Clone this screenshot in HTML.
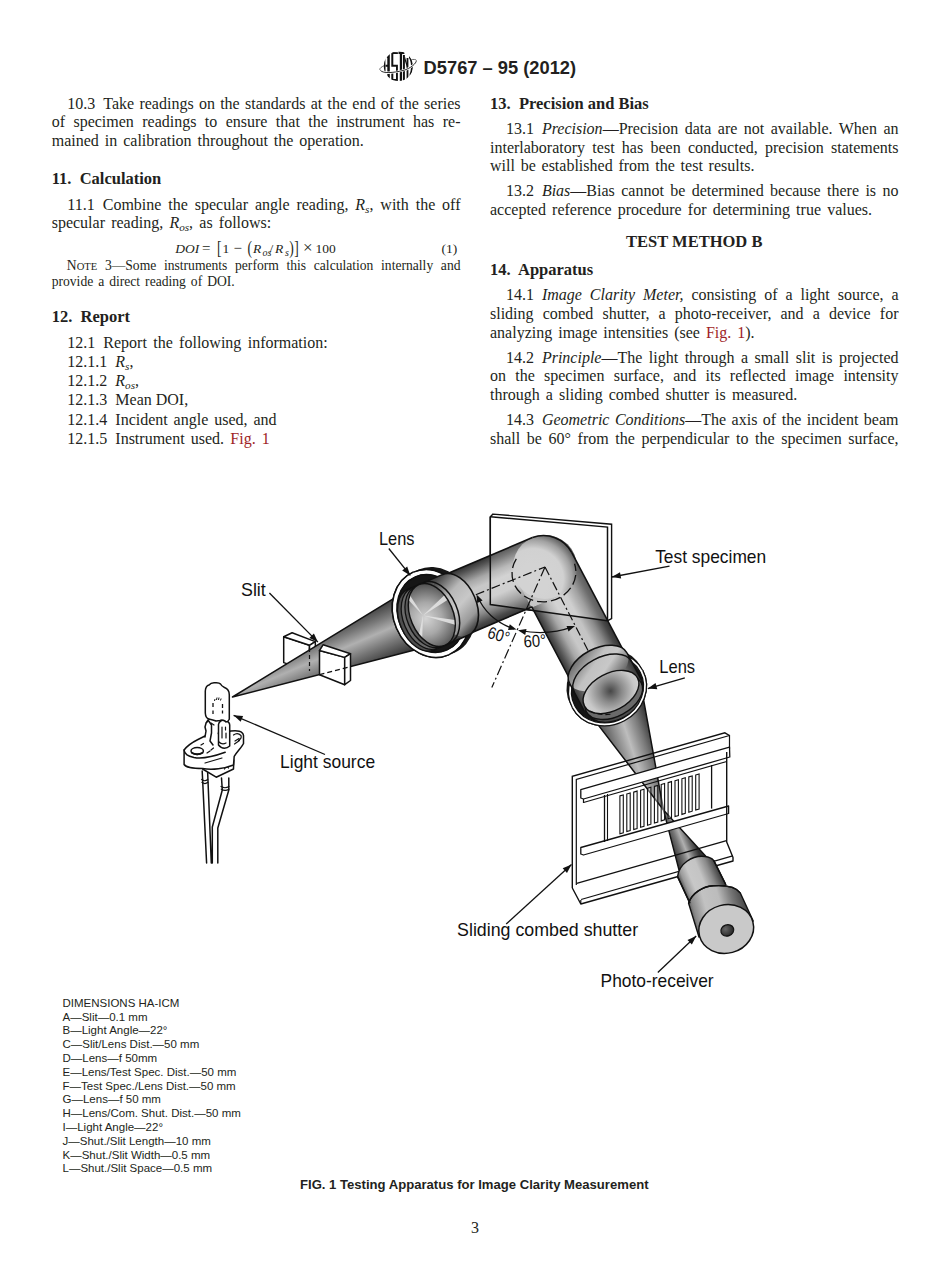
<!DOCTYPE html>
<html><head><meta charset="utf-8"><style>
html,body{margin:0;padding:0;background:#fff;}
body{width:950px;height:1272px;position:relative;overflow:hidden;color:#231f20;}
.l{position:absolute;line-height:20px;height:20px;white-space:nowrap;}
.j{text-align:justify;text-align-last:justify;white-space:normal;}
.s16{font:16px "Liberation Serif",serif;}
.b16{font:bold 16.5px "Liberation Serif",serif;}
.n14{font:13.6px "Liberation Serif",serif;}
.d11{font:11.5px "Liberation Sans",sans-serif;}
.f13{font:bold 13.1px "Liberation Sans",sans-serif;}
.h18{font:bold 18.3px "Liberation Sans",sans-serif;}
sub{font-size:70%;vertical-align:baseline;position:relative;top:0.3em;line-height:0;}
.sc small{font-size:78%;}
.red{color:#a01f27;}
.n{margin-right:8px;}
.eq{position:absolute;font:13.5px "Liberation Serif",serif;white-space:nowrap;}
.eq span{position:absolute;top:0;}
.eq .sb{font-size:10px;top:6.3px;}
.eq .bg{font-size:15px;top:-1.4px;}
.eq .xx{font-size:17px;top:-3px;}
.eq .br{display:inline-block;transform:scaleY(1.32);transform-origin:50% 62%;}
svg{position:absolute;left:0;top:0;}
</style></head><body>
<svg width="950" height="1272" viewBox="0 0 950 1272">
<defs><linearGradient id="gc1" gradientUnits="userSpaceOnUse" x1="388.2" y1="596.4" x2="411.8" y2="651.6"><stop offset="0" stop-color="#2c2c2c"/><stop offset="0.3" stop-color="#777"/><stop offset="0.5" stop-color="#b0b0b0"/><stop offset="0.72" stop-color="#777"/><stop offset="1" stop-color="#333"/></linearGradient><linearGradient id="gt2" gradientUnits="userSpaceOnUse" x1="584.2" y1="706.3" x2="637.8" y2="677.7"><stop offset="0" stop-color="#333"/><stop offset="0.08" stop-color="#555"/><stop offset="0.25" stop-color="#a8a8a8"/><stop offset="0.38" stop-color="#c8c8c8"/><stop offset="0.6" stop-color="#c4c4c4"/><stop offset="0.78" stop-color="#8a8a8a"/><stop offset="0.92" stop-color="#4a4a4a"/><stop offset="1" stop-color="#333"/></linearGradient><linearGradient id="gt1" gradientUnits="userSpaceOnUse" x1="532.4" y1="537.6" x2="557.6" y2="596.4"><stop offset="0" stop-color="#333"/><stop offset="0.08" stop-color="#555"/><stop offset="0.25" stop-color="#a8a8a8"/><stop offset="0.38" stop-color="#c8c8c8"/><stop offset="0.6" stop-color="#c4c4c4"/><stop offset="0.78" stop-color="#8a8a8a"/><stop offset="0.92" stop-color="#4a4a4a"/><stop offset="1" stop-color="#333"/></linearGradient><radialGradient id="gel" gradientUnits="userSpaceOnUse" cx="533.0" cy="579.0" r="49.0" ><stop offset="0" stop-color="#cacaca"/><stop offset="0.62" stop-color="#c6c6c6"/><stop offset="0.8" stop-color="#8a8a8a"/><stop offset="0.93" stop-color="#444"/><stop offset="1" stop-color="#333"/></radialGradient><linearGradient id="gcol" gradientUnits="userSpaceOnUse" x1="442.2" y1="574.6" x2="468.2" y2="635.3"><stop offset="0" stop-color="#3a3a3a"/><stop offset="0.12" stop-color="#6a6a6a"/><stop offset="0.32" stop-color="#b8b8b8"/><stop offset="0.55" stop-color="#c8c8c8"/><stop offset="0.8" stop-color="#9a9a9a"/><stop offset="0.92" stop-color="#555"/><stop offset="1" stop-color="#333"/></linearGradient><radialGradient id="gf1" gradientUnits="userSpaceOnUse" cx="424.8" cy="616.0" r="36.0" ><stop offset="0" stop-color="#d4d4d4"/><stop offset="0.45" stop-color="#a8a8a8"/><stop offset="0.8" stop-color="#6e6e6e"/><stop offset="1" stop-color="#4a4a4a"/></radialGradient><clipPath id="cf1"><ellipse cx="431.8" cy="615.0" rx="20.6" ry="32.3" transform="rotate(-23.2 431.8 615.0)" /></clipPath><linearGradient id="gcol2" gradientUnits="userSpaceOnUse" x1="582.3" y1="707.3" x2="639.7" y2="676.7"><stop offset="0" stop-color="#3a3a3a"/><stop offset="0.18" stop-color="#7a7a7a"/><stop offset="0.42" stop-color="#c2c2c2"/><stop offset="0.6" stop-color="#c8c8c8"/><stop offset="0.85" stop-color="#6a6a6a"/><stop offset="1" stop-color="#333"/></linearGradient><linearGradient id="gc2" gradientUnits="userSpaceOnUse" x1="598.0" y1="746.0" x2="652.0" y2="728.0"><stop offset="0" stop-color="#2e2e2e"/><stop offset="0.35" stop-color="#8a8a8a"/><stop offset="0.55" stop-color="#bdbdbd"/><stop offset="0.8" stop-color="#777"/><stop offset="1" stop-color="#333"/></linearGradient><radialGradient id="gf2" gradientUnits="userSpaceOnUse" cx="610.0" cy="692.0" r="32.0" ><stop offset="0" stop-color="#474747"/><stop offset="0.35" stop-color="#8a8a8a"/><stop offset="0.75" stop-color="#c8c8c8"/><stop offset="1" stop-color="#d4d4d4"/></radialGradient><linearGradient id="gc3" gradientUnits="userSpaceOnUse" x1="676.0" y1="862.0" x2="699.0" y2="853.0"><stop offset="0" stop-color="#2e2e2e"/><stop offset="0.35" stop-color="#777"/><stop offset="0.55" stop-color="#b0b0b0"/><stop offset="0.8" stop-color="#666"/><stop offset="1" stop-color="#333"/></linearGradient><linearGradient id="gpr" gradientUnits="userSpaceOnUse" x1="680.5" y1="885.0" x2="718.5" y2="869.0"><stop offset="0" stop-color="#444"/><stop offset="0.12" stop-color="#9a9a9a"/><stop offset="0.3" stop-color="#c8c8c8"/><stop offset="0.55" stop-color="#c4c4c4"/><stop offset="0.78" stop-color="#8a8a8a"/><stop offset="1" stop-color="#3a3a3a"/></linearGradient><linearGradient id="gpr2" gradientUnits="userSpaceOnUse" x1="690.0" y1="918.0" x2="748.0" y2="902.0"><stop offset="0" stop-color="#444"/><stop offset="0.1" stop-color="#8a8a8a"/><stop offset="0.3" stop-color="#c2c2c2"/><stop offset="0.55" stop-color="#bcbcbc"/><stop offset="0.75" stop-color="#7a7a7a"/><stop offset="1" stop-color="#3a3a3a"/></linearGradient><radialGradient id="ghole" gradientUnits="userSpaceOnUse" cx="726.0" cy="928.5" r="7.5" ><stop offset="0" stop-color="#666"/><stop offset="1" stop-color="#2a2a2a"/></radialGradient></defs>
<polygon points="572.3,776.4 724.8,732.8 729.5,735.5 729.5,749.0 726.7,752.0 726.7,842.0 733.0,857.5 733.0,861.0 580.8,904.0 572.3,888.0" fill="#fff" stroke="none"/>
<polygon points="493.0,514.1 611.6,524.2 611.6,618.5 607.5,620.7 490.3,604.5 490.3,516.8" fill="#fff" stroke="#111" stroke-width="1.4"/>
<polygon points="283.7,636.8 309.5,645.3 309.5,671.0 283.7,662.6" fill="#fff" stroke="#111" stroke-width="1.5" stroke-linejoin="round"/>
<polygon points="283.7,636.8 292.1,632.8 315.3,641.6 309.5,645.3" fill="#fff" stroke="#111" stroke-width="1.5" stroke-linejoin="round"/>
<polygon points="309.5,645.3 315.3,641.6 315.8,667.9 309.5,671.0" fill="#fff" stroke="#111" stroke-width="1.5" stroke-linejoin="round"/>
<polygon points="232.5,697.0 425.0,579.4 430.0,646.0" fill="url(#gc1)" stroke="#111" stroke-width="1.5" stroke-linejoin="round"/>
<line x1="309.5" y1="648" x2="309.5" y2="671" stroke="#111" stroke-width="1.2" stroke-dasharray="4,3"/>
<polygon points="319.5,650.5 344.7,657.4 344.7,684.7 319.5,674.7" fill="#fff" stroke="#111" stroke-width="1.5" stroke-linejoin="round"/>
<polygon points="319.5,650.5 323.2,644.7 350.5,653.7 344.7,657.4" fill="#fff" stroke="#111" stroke-width="1.5" stroke-linejoin="round"/>
<polygon points="344.7,657.4 350.5,653.7 350.5,680.5 344.7,684.7" fill="#fff" stroke="#111" stroke-width="1.5" stroke-linejoin="round"/>
<line x1="319.5" y1="674.6" x2="350.5" y2="666.6" stroke="#111" stroke-width="1.2" stroke-dasharray="5,3"/>
<polygon points="571.8,552.7 636.9,676.0 583.2,704.5 518.2,581.3" fill="url(#gt2)"/>
<polygon points="419.2,585.6 532.4,537.6 557.6,596.4 444.4,644.4" fill="url(#gt1)"/>
<polygon points="531.8,607.0 557.6,596.4 545.0,567.0 518.2,581.3" fill="#b8b8b8" stroke="#b8b8b8" stroke-width="1"/>
<circle cx="545.0" cy="567.0" r="32.0" fill="url(#gel)"/>
<polygon points="490.3,516.8 607.5,527.1 607.5,620.7 490.3,604.5" fill="#fff" fill-opacity="0.2"/>
<line x1="437.6" y1="577.7" x2="532.4" y2="537.6" stroke="#111" stroke-width="1.6"/>
<path d="M532.4,537.6 A32.0,32.0 0 0 1 571.8,552.7" fill="none" stroke="#111" stroke-width="1.6"/>
<line x1="571.8" y1="552.7" x2="636.9" y2="676.0" stroke="#111" stroke-width="1.6"/>
<polyline points="462.8,636.5 531.8,607.0 583.2,704.5" fill="none" stroke="#111" stroke-width="1.6" stroke-linejoin="miter"/>
<ellipse cx="436.5" cy="611.1" rx="37.5" ry="45.3" transform="rotate(-23.2 436.5 611.1)" fill="#161616"/>
<ellipse cx="431.0" cy="613.5" rx="35.2" ry="42.4" transform="rotate(-23.2 431.0 613.5)" fill="none" stroke="#fff" stroke-width="4.2"/>
<ellipse cx="431.0" cy="613.5" rx="37.5" ry="45.0" transform="rotate(-23.2 431.0 613.5)" fill="none" stroke="#111" stroke-width="1.5"/>
<ellipse cx="431.0" cy="613.5" rx="32.9" ry="39.8" transform="rotate(-23.2 431.0 613.5)" fill="none" stroke="#111" stroke-width="1.4"/>
<polygon points="405.9,590.2 442.2,574.6 468.2,635.3 431.9,650.8" fill="url(#gcol)"/>
<ellipse cx="455.2" cy="605.0" rx="21.0" ry="33.0" transform="rotate(-23.2 455.2 605.0)" fill="url(#gcol)"/>
<path d="M0,-33.0 A21.0,33.0 0 0 1 0,33.0" transform="translate(455.2,605.0) rotate(-23.2)" fill="none" stroke="#111" stroke-width="1.6" />
<path d="M0,-33.0 A21.0,33.0 0 0 1 0,33.0" transform="translate(436.4,613.0) rotate(-23.2)" fill="none" stroke="#111" stroke-width="1.5" />
<line x1="405.9" y1="590.2" x2="442.2" y2="574.6" stroke="#111" stroke-width="1.5"/>
<line x1="431.9" y1="650.8" x2="468.2" y2="635.3" stroke="#111" stroke-width="1.5"/>
<path d="M0,-42.4 A35.2,42.4 0 0 0 0,42.4" transform="translate(431.0,613.5) rotate(-23.2)" fill="none" stroke="#fff" stroke-width="4.2"/>
<path d="M0,-45.0 A37.5,45.0 0 0 0 0,45.0" transform="translate(431.0,613.5) rotate(-23.2)" fill="none" stroke="#111" stroke-width="1.5" />
<path d="M0,-39.8 A32.9,39.8 0 0 0 0,39.8" transform="translate(431.0,613.5) rotate(-23.2)" fill="none" stroke="#111" stroke-width="1.4" />
<ellipse cx="420.8" cy="619.7" rx="21.0" ry="33.0" transform="rotate(-23.2 420.8 619.7)" fill="#4e4e4e" stroke="#111" stroke-width="1.4"/>
<ellipse cx="424.4" cy="618.2" rx="21.0" ry="32.7" transform="rotate(-23.2 424.4 618.2)" fill="#6a6a6a" stroke="#111" stroke-width="1.3"/>
<ellipse cx="428.1" cy="616.6" rx="21.0" ry="32.4" transform="rotate(-23.2 428.1 616.6)" fill="#5a5a5a" stroke="#111" stroke-width="1.3"/>
<ellipse cx="431.8" cy="615.0" rx="21.3" ry="33.0" transform="rotate(-23.2 431.8 615.0)" fill="url(#gf1)" stroke="#111" stroke-width="1.4"/>
<polygon points="423.0,615.5 398.4,589.2 403.4,585.3" fill="#e2e2e2" opacity="0.9" clip-path="url(#cf1)"/>
<polygon points="423.0,615.5 449.1,590.7 453.4,596.2" fill="#e2e2e2" opacity="0.9" clip-path="url(#cf1)"/>
<polygon points="423.0,615.5 458.6,620.5 457.6,625.4" fill="#e2e2e2" opacity="0.9" clip-path="url(#cf1)"/>
<polygon points="423.0,615.5 421.7,651.5 415.5,650.7" fill="#e2e2e2" opacity="0.9" clip-path="url(#cf1)"/>
<polyline points="490.3,516.8 490.3,604.5 607.5,620.7" fill="none" stroke="#111" stroke-width="1.5"/>
<polyline points="490.3,516.8 607.5,527.1 607.5,620.7" fill="none" stroke="#111" stroke-width="1.5"/>
<line x1="475.8" y1="594.7" x2="545.0" y2="567.0" stroke="#111" stroke-width="1.2" stroke-dasharray="9,3,2,3"/>
<line x1="545.0" y1="567.0" x2="588" y2="650.5" stroke="#111" stroke-width="1.2" stroke-dasharray="9,3,2,3"/>
<line x1="545.0" y1="567.0" x2="491.8" y2="687.6" stroke="#111" stroke-width="1.2" stroke-dasharray="10,3,2,3"/>
<path d="M519,555 A32,29 0 1 0 576,568" fill="none" stroke="#111" stroke-width="1.3" stroke-dasharray="10,4" transform="rotate(-8 545 576)"/>
<path d="M477.5,596.5 Q488,620 514,629" fill="none" stroke="#111" stroke-width="1.2"/>
<path d="M520,630.5 Q548,636 573,626.6" fill="none" stroke="#111" stroke-width="1.2"/>
<polygon points="476.5,594.5 482.6,600.4 477.2,603.0" fill="#111"/>
<polygon points="516.5,629.6 508.0,630.0 509.8,624.3" fill="#111"/>
<polygon points="518.0,630.3 526.5,629.1 525.2,635.0" fill="#111"/>
<polygon points="575.0,626.0 568.5,631.6 566.5,625.9" fill="#111"/>
<ellipse cx="605.6" cy="685.5" rx="36.0" ry="40.0" transform="rotate(62.0 605.6 685.5)" fill="#161616"/>
<ellipse cx="607.5" cy="689.0" rx="34.5" ry="38.3" transform="rotate(62.0 607.5 689.0)" fill="none" stroke="#fff" stroke-width="3"/>
<ellipse cx="607.5" cy="689.0" rx="36.0" ry="39.8" transform="rotate(62.0 607.5 689.0)" fill="none" stroke="#111" stroke-width="1.3"/>
<ellipse cx="607.5" cy="689.0" rx="33.0" ry="36.8" transform="rotate(62.0 607.5 689.0)" fill="none" stroke="#111" stroke-width="1.3"/>
<polygon points="627.0,652.9 641.6,680.3 584.2,710.8 569.6,683.4" fill="url(#gcol2)"/>
<ellipse cx="598.3" cy="668.2" rx="19.5" ry="32.5" transform="rotate(62.0 598.3 668.2)" fill="url(#gcol2)" stroke="none"/>
<path d="M0,-32.5 A19.5,32.5 0 0 0 0,32.5" transform="translate(598.3,668.2) rotate(62.0)" fill="none" stroke="#111" stroke-width="1.5" />
<path d="M0,-32.5 A19.5,32.5 0 0 0 0,32.5" transform="translate(603.0,677.0) rotate(62.0)" fill="none" stroke="#111" stroke-width="1.4" />
<line x1="627.0" y1="652.9" x2="641.6" y2="680.3" stroke="#111" stroke-width="1.5"/>
<line x1="569.6" y1="683.4" x2="584.2" y2="710.8" stroke="#111" stroke-width="1.5"/>
<polygon points="590.1,714.4 663.5,810.0 641.3,687.2" fill="url(#gc2)" stroke="#111" stroke-width="1.5" stroke-linejoin="round"/>
<ellipse cx="615.7" cy="700.8" rx="18.5" ry="30.0" transform="rotate(62.0 615.7 700.8)" fill="#4a4a4a" stroke="#111" stroke-width="1.4"/>
<ellipse cx="613.8" cy="697.3" rx="19.0" ry="31.0" transform="rotate(62.0 613.8 697.3)" fill="#6a6a6a" stroke="#111" stroke-width="1.3"/>
<path d="M0,-38.3 A34.5,38.3 0 0 1 0,38.3" transform="translate(607.5,689.0) rotate(62.0)" fill="none" stroke="#fff" stroke-width="3"/>
<path d="M0,-39.8 A36.0,39.8 0 0 1 0,39.8" transform="translate(607.5,689.0) rotate(62.0)" fill="none" stroke="#111" stroke-width="1.3" />
<path d="M0,-36.8 A33.0,36.8 0 0 1 0,36.8" transform="translate(607.5,689.0) rotate(62.0)" fill="none" stroke="#111" stroke-width="1.3" />
<ellipse cx="611.0" cy="692.0" rx="18.6" ry="30.0" transform="rotate(62.0 611.0 692.0)" fill="url(#gf2)" stroke="#111" stroke-width="1.4"/>
<path d="M590,711 q10,5 22,3" fill="none" stroke="#111" stroke-width="1.2" stroke-dasharray="5,3"/>
<polygon points="663.5,810.0 679.0,870.0 706.0,856.5" fill="url(#gc3)" stroke="#111" stroke-width="1.4" stroke-linejoin="round"/>
<polyline points="572.3,888.0 572.3,776.4 724.8,732.8 729.5,735.5" fill="none" stroke="#111" stroke-width="1.4"/>
<polyline points="576.3,885.0 576.3,779.4 729.5,735.5 729.5,749.0" fill="none" stroke="#111" stroke-width="1.2"/>
<polygon points="580.8,789.5 729.5,747.0 729.8,757.0 583.5,799.0 580.8,798.0" fill="#fff" stroke="#111" stroke-width="1.3" stroke-linejoin="round"/>
<line x1="583.5" y1="799" x2="583.5" y2="803" stroke="#111" stroke-width="1.2"/>
<line x1="583.5" y1="802.5" x2="726.7" y2="761.5" stroke="#111" stroke-width="1.2"/>
<polygon points="580.8,847.5 728.6,806.0 728.6,813.5 583.5,855.0 580.8,854.0" fill="#fff" stroke="#111" stroke-width="1.3" stroke-linejoin="round"/>
<line x1="604.5" y1="795" x2="604.5" y2="842" stroke="#111" stroke-width="1.3"/>
<line x1="607.5" y1="794" x2="607.5" y2="841" stroke="#111" stroke-width="1.1"/>
<line x1="711.6" y1="765" x2="711.6" y2="808.6" stroke="#111" stroke-width="1.3"/>
<polygon points="619.9,795.9 623.3,794.9 623.3,832.8 619.9,833.8" fill="#fff" fill-opacity="0.35" stroke="#111" stroke-width="1.1"/>
<polygon points="626.8,794.0 630.2,793.0 630.2,830.6 626.8,831.6" fill="#fff" fill-opacity="0.35" stroke="#111" stroke-width="1.1"/>
<polygon points="633.7,792.1 637.1,791.1 637.1,828.5 633.7,829.5" fill="#fff" fill-opacity="0.35" stroke="#111" stroke-width="1.1"/>
<polygon points="640.6,790.2 644.0,789.2 644.0,826.3 640.6,827.3" fill="#fff" fill-opacity="0.35" stroke="#111" stroke-width="1.1"/>
<polygon points="647.5,788.3 650.9,787.3 650.9,824.2 647.5,825.2" fill="#fff" fill-opacity="0.35" stroke="#111" stroke-width="1.1"/>
<polygon points="654.4,786.4 657.8,785.4 657.8,822.0 654.4,823.0" fill="#fff" fill-opacity="0.35" stroke="#111" stroke-width="1.1"/>
<polygon points="661.2,784.5 664.6,783.5 664.6,819.9 661.2,820.9" fill="#fff" fill-opacity="0.35" stroke="#111" stroke-width="1.1"/>
<polygon points="668.1,782.6 671.5,781.6 671.5,817.7 668.1,818.7" fill="#fff" fill-opacity="0.35" stroke="#111" stroke-width="1.1"/>
<polygon points="675.0,780.7 678.4,779.7 678.4,815.5 675.0,816.5" fill="#fff" fill-opacity="0.35" stroke="#111" stroke-width="1.1"/>
<polygon points="681.9,778.8 685.3,777.8 685.3,813.4 681.9,814.4" fill="#fff" fill-opacity="0.35" stroke="#111" stroke-width="1.1"/>
<polygon points="688.8,776.9 692.2,775.9 692.2,811.2 688.8,812.2" fill="#fff" fill-opacity="0.35" stroke="#111" stroke-width="1.1"/>
<polygon points="695.7,775.0 699.1,774.0 699.1,809.1 695.7,810.1" fill="#fff" fill-opacity="0.35" stroke="#111" stroke-width="1.1"/>
<polyline points="726.7,752.0 726.7,842.0 733.0,857.5 733.0,861.0 580.8,904.0 572.3,888.0" fill="none" stroke="#111" stroke-width="1.4" stroke-linejoin="round"/>
<line x1="581.1" y1="899.5" x2="732.7" y2="855.9" stroke="#111" stroke-width="1.2"/>
<line x1="576.7" y1="883.4" x2="726.5" y2="840.7" stroke="#111" stroke-width="1.3"/>
<line x1="580.8" y1="904" x2="580.8" y2="900" stroke="#111" stroke-width="1.2"/>
<path d="M677.6,876.6 C679,864 692,855 705,856.5 C709,857 712,858.5 713.7,860.4 L726,885 L690.1,904 Z" fill="url(#gpr)" stroke="#111" stroke-width="1.4" stroke-linejoin="round"/>
<path d="M688.6,903.2 C692,893 703,886.5 713,885.8 C725,885 736,887 740.2,892.8 L753.2,921 L699,937 Z" fill="url(#gpr2)" stroke="#111" stroke-width="1.4" stroke-linejoin="round"/>
<path d="M677.6,876.6 L690.1,903.2 M713.7,860.4 L725.5,884" fill="none" stroke="#111" stroke-width="1.4"/>
<path d="M688.6,903.2 C692,893 703,886.5 713,885.8 C725,885 736,887 740.2,892.8" fill="none" stroke="#111" stroke-width="1.4"/>
<ellipse cx="726.2" cy="929" rx="27.6" ry="24.2" transform="rotate(-15 726.2 929)" fill="#c9c9c9" stroke="#111" stroke-width="1.5"/>
<ellipse cx="727.3" cy="930.4" rx="6.6" ry="5.6" transform="rotate(-20 727.3 930.4)" fill="url(#ghole)" stroke="#111" stroke-width="1.2"/>
<path d="M202.2,771 L206.6,863 M207.6,771 L211.3,863 M221.5,778 L222.3,790 L212.3,827 L212.3,863 M228.8,778 L228.8,790 L217.8,828 L217.8,863" fill="none" stroke="#111" stroke-width="1.5" stroke-linejoin="round" stroke-linecap="round"/>
<path d="M201.7,779.5 q3,2.5 6,0 M201.9,782.3 q3,2.5 6,0 M221,786.5 q4,2.5 8,0 M221.3,789.2 q3.8,2.5 7.6,0" fill="none" stroke="#111" stroke-width="1.2" stroke-linejoin="round" stroke-linecap="round"/>
<path d="M202.6,766 L202.6,769 L216.2,777.2 L233.5,769 L233.8,760" fill="#fff" stroke="#111" stroke-width="1.5" stroke-linejoin="round" stroke-linecap="round"/>
<path d="M224.5,769 l2,-3.5 l2,2.5" fill="none" stroke="#111" stroke-width="1.2" stroke-linejoin="round" stroke-linecap="round"/>
<path d="M184.1,750 C187,746 192,742.5 198,739.5 L206,735.5 L231,731 C237,730 243,731 243.5,735.5 L243.5,743.5 C242,747 237.5,751 234.2,756.4 L233.5,765 C225,768.5 212,770.5 202.6,768.5 C193,768.5 186,767.5 184.1,764.5 Z" fill="#fff" stroke="#111" stroke-width="1.5" stroke-linejoin="round" stroke-linecap="round"/>
<path d="M184.1,750 C184.5,754.5 188,756 194,757.5 C203,759.5 215,756 225.2,752.3" fill="none" stroke="#111" stroke-width="1.5" stroke-linejoin="round" stroke-linecap="round"/>
<path d="M205,763 L222,758" fill="none" stroke="#111" stroke-width="1.2" stroke-linejoin="round" stroke-linecap="round"/>
<ellipse cx="197.2" cy="751" rx="6.2" ry="3.4" fill="#fff" stroke="#111" stroke-width="1.5" stroke-linejoin="round" stroke-linecap="round"/>
<path d="M191.5,752.5 q5.5,3.5 11.5,0" fill="none" stroke="#111" stroke-width="2"/>
<path d="M233.5,735 q4,-3 7.5,0.5 q1,3 -2.5,5 M235,741 l4,-2.5 M234.5,744 l5,-3.5" fill="none" stroke="#111" stroke-width="1.2" stroke-linejoin="round" stroke-linecap="round"/>
<path d="M201,745 l2.5,-1.5 M207,753 l3,-2 M211,750 l2.5,-2" fill="none" stroke="#111" stroke-width="1.2" stroke-linejoin="round" stroke-linecap="round"/>
<path d="M206.5,722.5 L208,720 L212,724.5 L217,725 L218.5,745 L213,745 L210,741 L205.5,739 L205,737 L206,731 L205,727 Z" fill="#fff" stroke="none"/>
<path d="M206.5,722.5 L208,720 L211.5,725 L211.5,733 L210,741 L213,745 M206.2,722.5 L205,727 L206,731 L205,737" fill="none" stroke="#111" stroke-width="1.5" stroke-linejoin="round" stroke-linecap="round"/>
<path d="M218.5,745 L218.5,724.5 C219,721 222,720 224,720.5 C227,721 229.7,722 229.7,725 L229.7,746 C227,748.5 222,749.5 218.5,745 Z" fill="#fff" stroke="#111" stroke-width="1.5" stroke-linejoin="round" stroke-linecap="round"/>
<path d="M219,742 q3,3 7,1 M222,727 v11 M225.5,727 v3 M226,733 v5" fill="none" stroke="#111" stroke-width="1.2" stroke-linejoin="round" stroke-linecap="round"/>
<path d="M205.3,713 L205.3,691 C205.5,687.5 207,685.5 209,685 C210.5,683 213,682.5 215,682.7 C217.5,682.5 219.5,682.7 220.5,684 C221.5,686 222.5,686.5 224.5,687.5 C227.5,688.5 229.3,691 229.3,695 L229.3,719.3 C228.5,721 227,722 226,722 C225,720.5 222,719.5 220,720.5 L216,721 C213,719.5 210.5,719.5 209,719 C207,718.5 205.5,716.5 205.3,713 Z" fill="#fff" stroke="#111" stroke-width="1.5" stroke-linejoin="round" stroke-linecap="round"/>
<path d="M213,707 v-4 M213,714 v-3.5 M222.5,708 v-4 M222.5,713.5 v-3" fill="none" stroke="#111" stroke-width="1.3"/>
<path d="M214.5,701 l0.5,-2 M216.5,700 l0.5,-2.5 M218.5,700 l0.5,-2.5 M220.5,700.5 l0.6,-2" fill="none" stroke="#111" stroke-width="1"/>
<path d="M208.5,720 l-1.5,2 M211,723 l3,2" fill="none" stroke="#111" stroke-width="1.2" stroke-linejoin="round" stroke-linecap="round"/>
<text x="379" y="544.7" font-family="Liberation Sans" font-size="18.6" textLength="35.5" lengthAdjust="spacingAndGlyphs" fill="#111">Lens</text>
<line x1="388.8" y1="548.5" x2="410.3" y2="575.4" stroke="#111" stroke-width="1.3"/>
<polygon points="410.3,575.4 402.2,570.4 407.2,566.4" fill="#111"/>
<text x="241" y="595.8" font-family="Liberation Sans" font-size="18.6" textLength="24.8" lengthAdjust="spacingAndGlyphs" fill="#111">Slit</text>
<line x1="269.4" y1="593" x2="317.9" y2="642.1" stroke="#111" stroke-width="1.3"/>
<polygon points="317.9,642.1 309.3,637.9 313.9,633.4" fill="#111"/>
<text x="655.2" y="562.8" font-family="Liberation Sans" font-size="18.6" textLength="111" lengthAdjust="spacingAndGlyphs" fill="#111">Test specimen</text>
<line x1="669.5" y1="566.1" x2="611.8" y2="577" stroke="#111" stroke-width="1.3"/>
<polygon points="611.8,577.0 620.0,572.2 621.2,578.5" fill="#111"/>
<text x="659.3" y="673.3" font-family="Liberation Sans" font-size="18.6" textLength="35.8" lengthAdjust="spacingAndGlyphs" fill="#111">Lens</text>
<line x1="684.8" y1="677.8" x2="647.8" y2="688.6" stroke="#111" stroke-width="1.3"/>
<polygon points="647.8,688.6 655.5,683.0 657.3,689.2" fill="#111"/>
<text x="280.1" y="767.5" font-family="Liberation Sans" font-size="18.6" textLength="95" lengthAdjust="spacingAndGlyphs" fill="#111">Light source</text>
<line x1="325" y1="754.5" x2="233.6" y2="715.3" stroke="#111" stroke-width="1.3"/>
<polygon points="233.6,715.3 243.1,715.9 240.6,721.8" fill="#111"/>
<text x="457.1" y="936.2" font-family="Liberation Sans" font-size="18.6" textLength="181" lengthAdjust="spacingAndGlyphs" fill="#111">Sliding combed shutter</text>
<line x1="506.2" y1="924" x2="571.5" y2="864.5" stroke="#111" stroke-width="1.3"/>
<polygon points="571.5,864.5 567.0,872.9 562.7,868.2" fill="#111"/>
<text x="600.6" y="987.2" font-family="Liberation Sans" font-size="18.6" textLength="113" lengthAdjust="spacingAndGlyphs" fill="#111">Photo-receiver</text>
<line x1="657.8" y1="972.5" x2="696.2" y2="936" stroke="#111" stroke-width="1.3"/>
<polygon points="696.2,936.0 691.9,944.5 687.5,939.9" fill="#111"/>
<text x="0" y="0" font-family="Liberation Sans" font-size="17" textLength="22" lengthAdjust="spacingAndGlyphs" fill="#111" transform="translate(486.5,637.5) rotate(17)">60°</text>
<text x="0" y="0" font-family="Liberation Sans" font-size="17" textLength="22.5" lengthAdjust="spacingAndGlyphs" fill="#111" transform="translate(524,647.5) rotate(-4)">60°</text>
</svg><svg style="position:absolute;left:0;top:0" width="950" height="120" viewBox="0 0 950 120">
<defs><clipPath id="lgc"><ellipse cx="398.4" cy="66.2" rx="14.6" ry="14.9"/></clipPath></defs>
<path d="M380.5,70.5 C377,67.5 388,63.5 398,61.5 C408,59.5 417,58.5 416.3,60.6" fill="none" stroke="#444" stroke-width="0.8"/>
<ellipse cx="398.4" cy="66.2" rx="14.6" ry="14.9" fill="#fff"/>
<g clip-path="url(#lgc)" fill="#111">
<path d="M383,82 L383,50 L386,50 C385.5,56 385.2,62 385.5,66 L385.6,82 Z"/>
<path d="M386.2,57 C387,54 388,52.5 389.8,51.5 L389.8,82 L387.3,82 L387.3,66.8 L385.6,66.8 L385.6,64.8 L387.3,64.8 L387.3,58 Z"/>
<path d="M391.3,52 L397.9,52.3 L397.9,54 L393.3,54 L393.3,64.8 L397.9,64.8 L397.9,81 L391.3,81 L391.3,79 L396,79 L396,66.8 L391.3,66.8 Z"/>
<path d="M391.3,72 h2 v9 h-2 z"/>
<path d="M398.5,51.6 L404.4,52.2 L404.4,54 L402.1,54 L402.1,82 L399.8,82 L399.8,54 L398.5,54 Z"/>
<path d="M403,55 h1.9 v27 h-1.9 z"/>
<path d="M404.9,56.5 L408,66.8 L407.2,68.3 L404.6,60 Z"/>
<path d="M406.6,58 h1.8 v22 h-1.8 z"/>
<path d="M409,55 C411.5,58 413,62 413,66 C413,71 411.5,75 409.6,77.5 L409.6,74 C410.6,72 411,69 411,66 C411,62.5 410.2,60 409,58 Z"/>
</g>
<path d="M380.5,70.5 C383,73.5 393,73 403,70.5 C411,68.5 416.5,63 416.3,60.6" fill="none" stroke="#fff" stroke-width="2.2"/>
<path d="M380.5,70.5 C383,73.5 393,73 403,70.5 C411,68.5 416.5,63 416.3,60.6" fill="none" stroke="#111" stroke-width="0.9"/>
</svg>

<div class="l h18" style="left:423.6px;top:57px">D5767 – 95 (2012)</div>
<div class="l j s16" style="left:67.3px;top:95px;width:393.2px"><span class="n">10.3</span>Take readings on the standards at the end of the series</div>
<div class="l j s16" style="left:51.7px;top:113px;width:408.8px">of specimen readings to ensure that the instrument has re-</div>
<div class="l j s16" style="left:51.7px;top:132px;width:312.1px">mained in calibration throughout the operation.</div>
<div class="l b16" style="left:51.7px;top:169px">11.&nbsp; Calculation</div>
<div class="l j s16" style="left:67.3px;top:196px;width:393.2px"><span class="n">11.1</span>Combine the specular angle reading, <i>R<sub>s</sub></i>, with the off</div>
<div class="l j s16" style="left:51.7px;top:214px;width:219.6px">specular reading, <i>R<sub>os</sub></i>, as follows:</div>
<div class="l j n14" style="left:66.8px;top:258px;width:393.7px"><span class="sc">N<small>OTE</small></span> 3—Some instruments perform this calculation internally and</div>
<div class="l j n14" style="left:51.7px;top:274px;width:183.0px">provide a direct reading of DOI.</div>
<div class="l b16" style="left:51.7px;top:307px">12.&nbsp; Report</div>
<div class="l j s16" style="left:67.3px;top:334px;width:260.4px"><span class="n">12.1</span>Report the following information:</div>
<div class="l s16" style="left:67.3px;top:353px"><span class="n">12.1.1</span><i>R<sub>s</sub></i>,</div>
<div class="l s16" style="left:67.3px;top:372px"><span class="n">12.1.2</span><i>R<sub>os</sub></i>,</div>
<div class="l s16" style="left:67.3px;top:391px"><span class="n">12.1.3</span>Mean DOI,</div>
<div class="l j s16" style="left:67.3px;top:411px;width:209.2px"><span class="n">12.1.4</span>Incident angle used, and</div>
<div class="l j s16" style="left:67.3px;top:430px;width:202.5px"><span class="n">12.1.5</span>Instrument used. <span class="red">Fig. 1</span></div>
<div class="l b16" style="left:490px;top:94px">13.&nbsp; Precision and Bias</div>
<div class="l j s16" style="left:505.9px;top:120px;width:392.6px"><span class="n">13.1</span><i>Precision</i>—Precision data are not available. When an</div>
<div class="l j s16" style="left:490px;top:139px;width:408.5px">interlaboratory test has been conducted, precision statements</div>
<div class="l j s16" style="left:490px;top:157px;width:264.4px">will be established from the test results.</div>
<div class="l j s16" style="left:505.9px;top:182px;width:392.6px"><span class="n">13.2</span><i>Bias</i>—Bias cannot be determined because there is no</div>
<div class="l j s16" style="left:490px;top:201px;width:382.0px">accepted reference procedure for determining true values.</div>
<div class="l b16" style="left:490px;top:232px;width:408.5px;text-align:center">TEST METHOD B</div>
<div class="l b16" style="left:490px;top:260px">14.&nbsp; Apparatus</div>
<div class="l j s16" style="left:505.9px;top:286px;width:392.6px"><span class="n">14.1</span><i>Image Clarity Meter,</i> consisting of a light source, a</div>
<div class="l j s16" style="left:490px;top:305px;width:408.5px">sliding combed shutter, a photo-receiver, and a device for</div>
<div class="l j s16" style="left:490px;top:324px;width:264.6px">analyzing image intensities (see <span class="red">Fig. 1</span>).</div>
<div class="l j s16" style="left:505.9px;top:349px;width:392.6px"><span class="n">14.2</span><i>Principle</i>—The light through a small slit is projected</div>
<div class="l j s16" style="left:490px;top:367px;width:408.5px">on the specimen surface, and its reflected image intensity</div>
<div class="l j s16" style="left:490px;top:386px;width:307.2px">through a sliding combed shutter is measured.</div>
<div class="l j s16" style="left:505.9px;top:411px;width:392.6px"><span class="n">14.3</span><i>Geometric Conditions</i>—The axis of the incident beam</div>
<div class="l j s16" style="left:490px;top:430px;width:408.5px">shall be 60° from the perpendicular to the specimen surface,</div>
<div class="l d11" style="left:62.5px;top:997px">DIMENSIONS HA-ICM</div>
<div class="l d11" style="left:62.5px;top:1011px">A—Slit—0.1 mm</div>
<div class="l d11" style="left:62.5px;top:1024px">B—Light Angle—22°</div>
<div class="l d11" style="left:62.5px;top:1038px">C—Slit/Lens Dist.—50 mm</div>
<div class="l d11" style="left:62.5px;top:1052px">D—Lens—f 50mm</div>
<div class="l d11" style="left:62.5px;top:1066px">E—Lens/Test Spec. Dist.—50 mm</div>
<div class="l d11" style="left:62.5px;top:1080px">F—Test Spec./Lens Dist.—50 mm</div>
<div class="l d11" style="left:62.5px;top:1093px">G—Lens—f 50 mm</div>
<div class="l d11" style="left:62.5px;top:1107px">H—Lens/Com. Shut. Dist.—50 mm</div>
<div class="l d11" style="left:62.5px;top:1121px">I—Light Angle—22°</div>
<div class="l d11" style="left:62.5px;top:1135px">J—Shut./Slit Length—10 mm</div>
<div class="l d11" style="left:62.5px;top:1149px">K—Shut./Slit Width—0.5 mm</div>
<div class="l d11" style="left:62.5px;top:1162px">L—Shut./Slit Space—0.5 mm</div>
<div class="l f13" style="left:300px;top:1177px">FIG. 1 Testing Apparatus for Image Clarity Measurement</div>
<div class="eq" style="left:0;top:241px;width:950px;height:20px">
<span style="left:175.3px"><i>DOI</i></span><span class="bg" style="left:202px">=</span><span style="left:217px" class="br">[</span><span style="left:222.4px">1</span><span class="bg" style="left:233.6px">−</span><span style="left:247.6px" class="br">(</span><span style="left:253px"><i>R</i></span><span class="sb" style="left:262.6px"><i>os</i></span><span style="left:269.4px">/</span><span style="left:275px"><i>R</i></span><span class="sb" style="left:285px"><i>s</i></span><span style="left:289.2px" class="br">)</span><span style="left:294.3px" class="br">]</span><span class="xx" style="left:303px">×</span><span style="left:315.4px">100</span><span style="left:441.5px">(1)</span>
</div>
<div class="l s16" style="left:471px;top:1219px">3</div>
</body></html>
